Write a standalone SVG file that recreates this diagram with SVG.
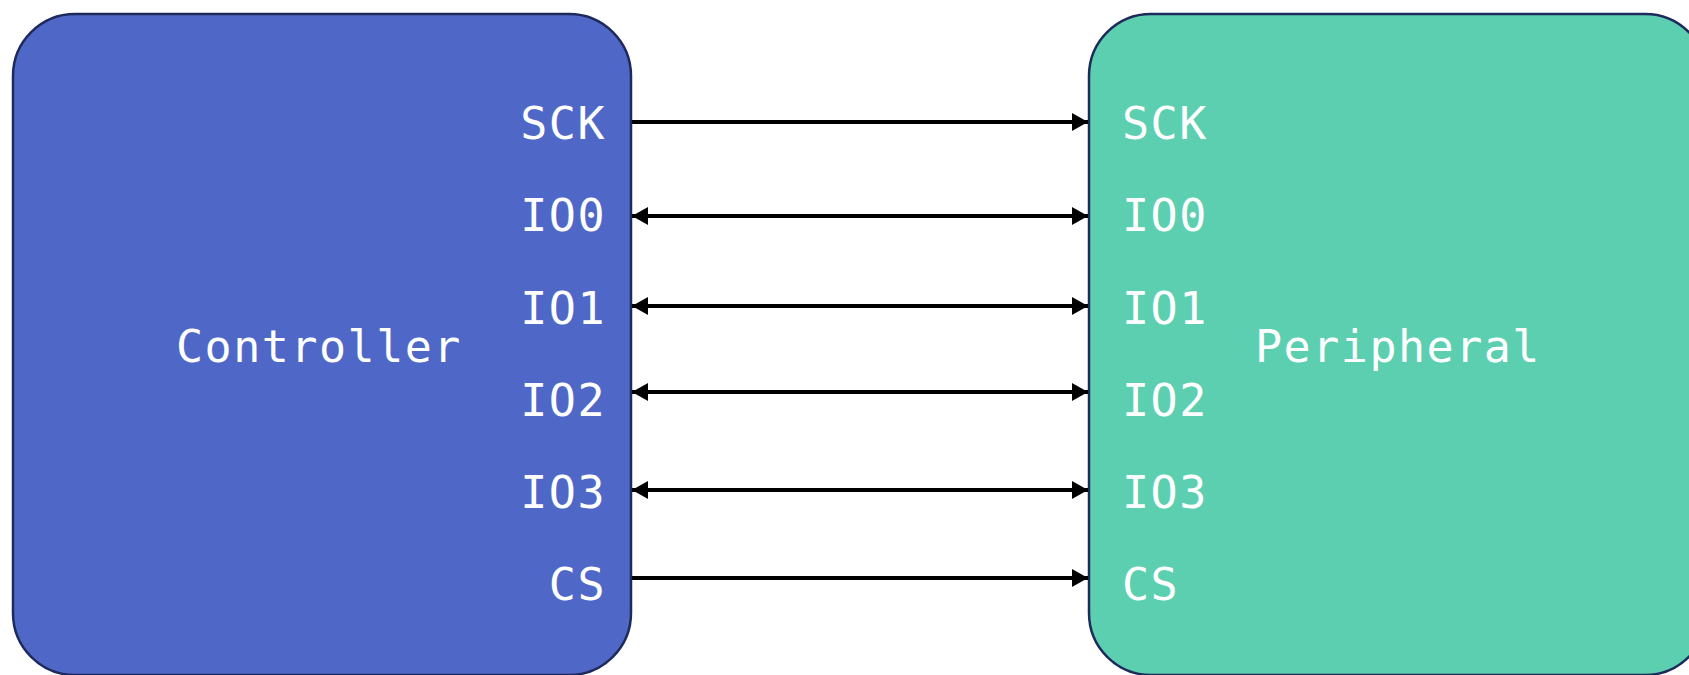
<svg xmlns="http://www.w3.org/2000/svg" width="1689" height="675" viewBox="0 0 1689 675">
<style>
.box{stroke:#1e2a5c;stroke-width:2.5}
.lbl{font-family:"DejaVu Sans Mono","Liberation Mono",monospace;font-size:45px;fill:#ffffff;letter-spacing:1.5px}
.ln{stroke:#000;stroke-width:4;fill:none}
</style>
<defs>
<marker id="ah" viewBox="0 0 16 18" refX="16" refY="9" markerWidth="16" markerHeight="18" markerUnits="userSpaceOnUse" orient="auto-start-reverse">
<path d="M0,0 L16,9 L0,18 Z" fill="#000"/>
</marker>
</defs>
<rect width="1689" height="675" fill="#ffffff"/>
<g id="controller">
<rect class="box" x="13" y="14" width="618" height="661" rx="62" ry="62" fill="#4f68c8"/>
<text class="lbl" x="319" y="362" text-anchor="middle">Controller</text>
<g text-anchor="end">
<text class="lbl" x="606" y="139">SCK</text>
<text class="lbl" x="606" y="231">IO0</text>
<text class="lbl" x="606" y="324">IO1</text>
<text class="lbl" x="606" y="416">IO2</text>
<text class="lbl" x="606" y="508">IO3</text>
<text class="lbl" x="606" y="600">CS</text>
</g>
</g>
<g id="peripheral">
<rect class="box" x="1089" y="14" width="618" height="661" rx="62" ry="62" fill="#5ccfb1"/>
<text class="lbl" x="1398" y="362" text-anchor="middle">Peripheral</text>
<text class="lbl" x="1122" y="139">SCK</text>
<text class="lbl" x="1122" y="231">IO0</text>
<text class="lbl" x="1122" y="324">IO1</text>
<text class="lbl" x="1122" y="416">IO2</text>
<text class="lbl" x="1122" y="508">IO3</text>
<text class="lbl" x="1122" y="600">CS</text>
</g>
<g id="connectors">
<line class="ln" x1="632" y1="122" x2="1088" y2="122" marker-end="url(#ah)"/>
<line class="ln" x1="632" y1="216" x2="1088" y2="216" marker-start="url(#ah)" marker-end="url(#ah)"/>
<line class="ln" x1="632" y1="306" x2="1088" y2="306" marker-start="url(#ah)" marker-end="url(#ah)"/>
<line class="ln" x1="632" y1="392" x2="1088" y2="392" marker-start="url(#ah)" marker-end="url(#ah)"/>
<line class="ln" x1="632" y1="490" x2="1088" y2="490" marker-start="url(#ah)" marker-end="url(#ah)"/>
<line class="ln" x1="632" y1="578" x2="1088" y2="578" marker-end="url(#ah)"/>
</g>
</svg>
